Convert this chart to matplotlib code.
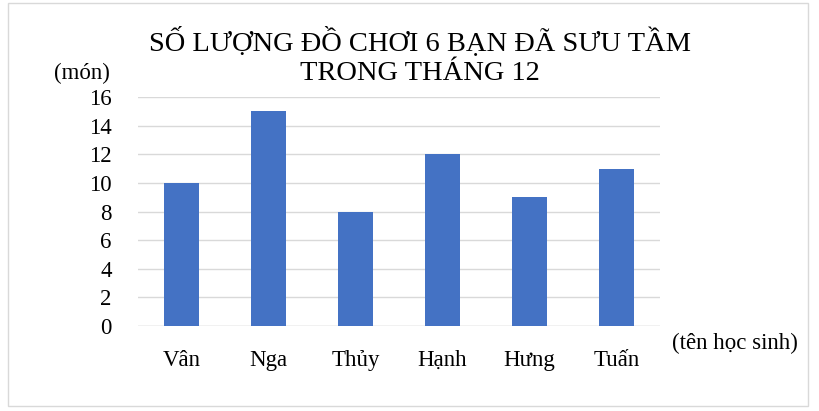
import matplotlib
matplotlib.use('Agg')
import matplotlib.pyplot as plt
from matplotlib.patches import Rectangle

# data
students = ['Vân', 'Nga', 'Thủy', 'Hạnh', 'Hưng', 'Tuấn']
toys = [10, 15, 8, 12, 9, 11]
yticks = [0, 2, 4, 6, 8, 10, 12, 14, 16]

plt.rcParams['font.family'] = ['Liberation Serif', 'DejaVu Serif']

fig = plt.figure(figsize=(8.2, 4.11), dpi=100)
ax = fig.add_axes([138 / 820, 1 - 326 / 411, 522 / 820, 229 / 411])

x = range(len(students))
ax.bar(x, toys, width=0.4, color='#4472C4', zorder=3)
ax.set_xlim(-0.5, len(students) - 0.5)
ax.set_ylim(0, 16)
ax.set_yticks(yticks)
ax.set_xticks(list(x))
ax.set_xticklabels(students)
ax.grid(axis='y', color='#d9d9d9', linewidth=1, zorder=0)
for s in ax.spines.values():
    s.set_visible(False)
ax.axhline(0, color='#d9d9d9', linewidth=1, zorder=1)
ax.tick_params(axis='both', length=0, labelsize=16.5)
ax.tick_params(axis='y', pad=19)
ax.tick_params(axis='x', pad=17)

fig.text(420 / 820, 1 - 41 / 411, 'SỐ LƯỢNG ĐỒ CHƠI 6 BẠN ĐÃ SƯU TẦM',
         ha='center', va='center', fontsize=20.5)
fig.text(420 / 820, 1 - 73 / 411, 'TRONG THÁNG 12',
         ha='center', va='center', fontsize=20.5)
fig.text(82 / 820, 1 - 73 / 411, '(món)', ha='center', va='center', fontsize=16.5)
fig.text(735 / 820, 1 - 343 / 411, '(tên học sinh)', ha='center', va='center', fontsize=16.5)

# chart border
fig.patches.append(Rectangle((8 / 820, 5 / 411), 800 / 820, 403 / 411,
                             transform=fig.transFigure, fill=False,
                             edgecolor='#d9d9d9', linewidth=1))

fig.savefig('out.png', dpi=100)
